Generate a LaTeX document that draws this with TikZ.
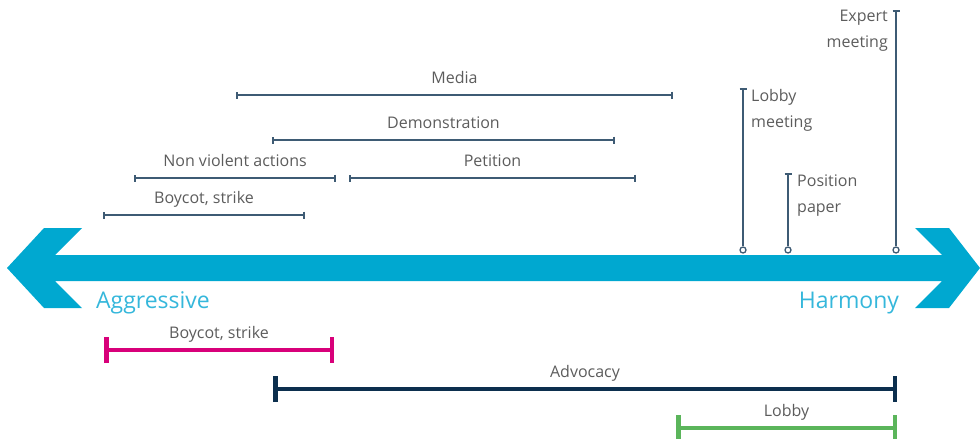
\documentclass[tikz,border=0pt]{standalone}
\usepackage{fontspec}
\setmainfont{Open Sans}
\usetikzlibrary{
	arrows.meta,
	positioning
}
\definecolor{ArrowBlue}{HTML}{00A8D0}
\definecolor{LabelBlue}{HTML}{35B7DB}
\definecolor{RangeGray}{HTML}{3E5B74}
\definecolor{TextGray}{HTML}{5C5C5C}
\definecolor{BoycotPink}{HTML}{D8007A}
\definecolor{AdvocacyNavy}{HTML}{0C2F4E}
\definecolor{LobbyGreen}{HTML}{5BB55B}
\tikzset{
	Range/.style={{Bar[width=7pt]}-{Bar[width=7pt]},line width=1.6pt,draw=RangeGray},
	Stem/.style={{Bar[width=7pt]}-,line width=1.6pt,draw=RangeGray},
	Foot/.style={circle,draw=RangeGray,fill=white,line width=1.3pt,inner sep=0pt,minimum size=6pt},
	Campaign/.style={{Bar[width=26pt]}-{Bar[width=26pt]},line width=4.5pt},
	Tag/.style={text=TextGray,font=\fontsize{16}{26}\selectfont,anchor=base,inner sep=0pt,yshift=12pt},
	Note/.style={text=TextGray,font=\fontsize{16}{26}\selectfont,inner sep=0pt},
	Pole/.style={text=LabelBlue,font=\fontsize{23}{28}\selectfont,anchor=base,inner sep=0pt}
}

\begin{document}
\begin{tikzpicture}[x=1pt,y=-1pt]
	\useasboundingbox (0,0) rectangle (980,439);
	% the scale from aggressive to harmony
	\fill [ArrowBlue] (7,268) -- (44,228) -- (82,228) -- (55,255) -- (942,255) -- (915,228)
		-- (949,228) -- (980,268) -- (949,308) -- (915,308) -- (942,281) -- (55,281)
		-- (82,308) -- (44,308) -- cycle;
	\node [Pole] (pole_aggr) at (153,308) {Aggressive};
	\node [Pole] (pole_harm) at (849,308) {Harmony};
	% ranges of actions
	\coordinate (media_l) at (236,95);
	\coordinate (media_r) at (673,95);
	\coordinate (demo_l) at (272,140);
	\coordinate (demo_r) at (615,140);
	\coordinate (nonviol_l) at (134,178);
	\coordinate (nonviol_r) at (336,178);
	\coordinate (petit_l) at (349,178);
	\coordinate (petit_r) at (636,178);
	\coordinate (strike_l) at (103,215);
	\coordinate (strike_r) at (305,215);
	\draw [Range] (media_l) -- node [Tag] (lbl_media) {Media} (media_r);
	\draw [Range] (demo_l) -- node [Tag] (lbl_demo) {Demonstration} (demo_r);
	\draw [Range] (nonviol_l) -- node [Tag] (lbl_nonviol) {Non violent actions} (nonviol_r);
	\draw [Range] (petit_l) -- node [Tag] (lbl_petit) {Petition} (petit_r);
	\draw [Range] (strike_l) -- node [Tag] (lbl_strike) {Boycot, strike} (strike_r);
	% single actions near harmony
	\coordinate (lobby_top) at (743,88);
	\coordinate (paper_top) at (788,173);
	\coordinate (expert_top) at (896,10);
	\node [Foot] (lobby_foot) at (743,250) {};
	\node [Foot] (paper_foot) at (788,250) {};
	\node [Foot] (expert_foot) at (896,250) {};
	\draw [Stem] (lobby_top) -- (lobby_foot);
	\draw [Stem] (paper_top) -- (paper_foot);
	\draw [Stem] (expert_top) -- (expert_foot);
	\node [Note,anchor=north west,align=left,xshift=8pt,yshift=-1pt] (lbl_lobby) at (lobby_top) {Lobby\\meeting};
	\node [Note,anchor=north west,align=left,xshift=9pt,yshift=-2pt] (lbl_paper) at (paper_top) {Position\\paper};
	\node [Note,anchor=north east,align=right,xshift=-8pt] (lbl_expert) at (expert_top) {Expert\\meeting};
	% campaigns
	\coordinate (boycot_l) at (104,350);
	\coordinate (boycot_r) at (334,350);
	\coordinate (advoc_l) at (273,389);
	\coordinate (advoc_r) at (897,389);
	\coordinate (lobbyc_l) at (676,428);
	\coordinate (lobbyc_r) at (897,428);
	\draw [Campaign,draw=BoycotPink] (boycot_l) -- node [Tag] (lbl_boycot) {Boycot, strike} (boycot_r);
	\draw [Campaign,draw=AdvocacyNavy] (advoc_l) -- node [Tag] (lbl_advoc) {Advocacy} (advoc_r);
	\draw [Campaign,draw=LobbyGreen] (lobbyc_l) -- node [Tag] (lbl_lobbyc) {Lobby} (lobbyc_r);
\end{tikzpicture}
\end{document}
